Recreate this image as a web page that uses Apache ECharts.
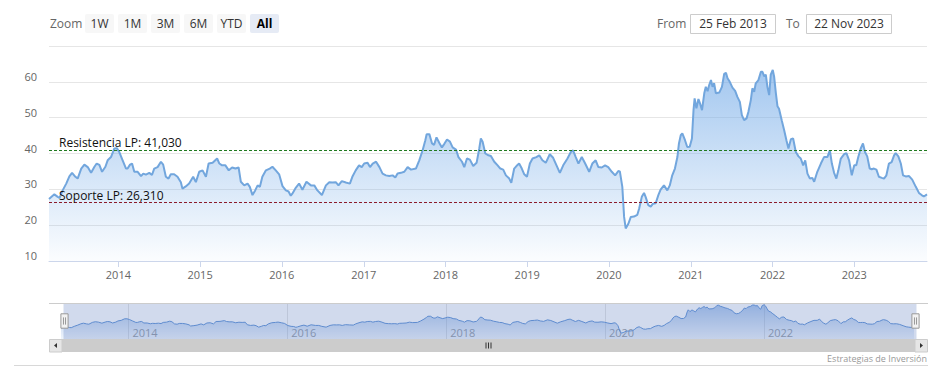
<!DOCTYPE html>
<html>
<head>
<meta charset="utf-8">
<script src="https://cdn.jsdelivr.net/npm/echarts@6/dist/echarts.min.js"></script>
<style>
html,body{margin:0;padding:0;background:#fff;}
#chart{width:944px;height:380px;}
</style>
</head>
<body>
<div id="chart"></div>
<script>
const dates = [
'2013-02-25','2013-03-21','2013-04-05','2013-04-13','2013-04-27','2013-05-13','2013-05-27','2013-06-08','2013-06-23','2013-07-03',
'2013-07-19','2013-08-02','2013-08-17','2013-09-01','2013-09-16','2013-09-26','2013-10-08','2013-10-20','2013-11-04','2013-11-14',
'2013-11-29','2013-12-14','2013-12-25','2014-01-05','2014-01-20','2014-02-04','2014-02-11','2014-02-22','2014-03-03','2014-03-13',
'2014-03-28','2014-04-12','2014-04-22','2014-05-04','2014-05-19','2014-05-31','2014-06-10','2014-06-25','2014-07-10','2014-07-20',
'2014-08-01','2014-08-13','2014-08-23','2014-09-07','2014-09-22','2014-10-07','2014-10-14','2014-10-29','2014-11-13','2014-12-01',
'2014-12-13','2014-12-28','2015-01-12','2015-01-27','2015-02-08','2015-02-26','2015-03-18','2015-03-28','2015-04-09','2015-04-24',
'2015-05-09','2015-05-24','2015-06-08','2015-06-22','2015-07-02','2015-07-17','2015-08-01','2015-08-11','2015-08-23','2015-09-04',
'2015-09-15','2015-09-25','2015-10-06','2015-10-22','2015-11-08','2015-11-20','2015-12-05','2015-12-20','2016-01-04','2016-01-19',
'2016-01-31','2016-02-10','2016-02-17','2016-03-04','2016-03-18','2016-04-02','2016-04-20','2016-05-10','2016-05-25','2016-06-08',
'2016-06-28','2016-07-16','2016-07-31','2016-08-14','2016-08-29','2016-09-10','2016-09-25','2016-10-13','2016-10-31','2016-11-11',
'2016-11-26','2016-12-11','2016-12-23','2017-01-03','2017-01-18','2017-01-29','2017-02-10','2017-02-25','2017-03-12','2017-03-26',
'2017-04-10','2017-04-25','2017-05-10','2017-05-22','2017-06-01','2017-06-16','2017-07-01','2017-07-16','2017-07-31','2017-08-22',
'2017-09-06','2017-09-21','2017-10-03','2017-10-09','2017-10-21','2017-11-02','2017-11-11','2017-11-22','2017-12-04','2017-12-16',
'2017-12-27','2018-01-08','2018-01-21','2018-02-02','2018-02-17','2018-02-28','2018-03-16','2018-03-26','2018-04-07','2018-04-20',
'2018-05-05','2018-05-20','2018-06-01','2018-06-08','2018-06-16','2018-06-28','2018-07-12','2018-07-23','2018-08-07','2018-08-22',
'2018-09-03','2018-09-16','2018-09-28','2018-10-13','2018-10-22','2018-11-04','2018-11-14','2018-11-26','2018-12-08','2018-12-19',
'2018-12-31','2019-01-13','2019-01-25','2019-02-11','2019-02-24','2019-03-10','2019-03-25','2019-04-12','2019-04-27','2019-05-12',
'2019-05-27','2019-06-11','2019-06-30','2019-07-15','2019-07-25','2019-08-06','2019-08-18','2019-09-02','2019-09-17','2019-10-05',
'2019-10-19','2019-11-03','2019-11-15','2019-11-30','2019-12-15','2019-12-29','2020-01-14','2020-01-29','2020-02-12','2020-02-19',
'2020-03-01','2020-03-09','2020-03-16','2020-03-28','2020-04-08','2020-04-22','2020-05-07','2020-05-15','2020-05-27','2020-06-06',
'2020-06-13','2020-06-25','2020-07-06','2020-07-16','2020-07-28','2020-08-09','2020-08-19','2020-09-03','2020-09-18','2020-09-29',
'2020-10-10','2020-10-22','2020-11-02','2020-11-09','2020-11-17','2020-11-24','2020-12-06','2020-12-16','2020-12-27','2021-01-06',
'2021-01-13','2021-01-18','2021-01-26','2021-02-04','2021-02-11','2021-02-20','2021-03-02','2021-03-09','2021-03-17','2021-03-24',
'2021-04-01','2021-04-08','2021-04-15','2021-04-23','2021-05-08','2021-05-20','2021-05-30','2021-06-07','2021-06-14','2021-06-24',
'2021-07-06','2021-07-18','2021-07-28','2021-08-08','2021-08-17','2021-08-27','2021-09-07','2021-09-15','2021-09-26','2021-10-03',
'2021-10-11','2021-10-18','2021-10-30','2021-11-10','2021-11-17','2021-11-25','2021-12-02','2021-12-09','2021-12-17','2021-12-24',
'2022-01-02','2022-01-08','2022-01-16','2022-01-23','2022-01-30','2022-02-11','2022-02-22','2022-03-04','2022-03-13','2022-03-24',
'2022-04-03','2022-04-15','2022-04-27','2022-05-07','2022-05-18','2022-05-27','2022-06-06','2022-06-17','2022-06-28','2022-07-06',
'2022-07-20','2022-08-05','2022-08-19','2022-09-03','2022-09-14','2022-09-23','2022-10-03','2022-10-13','2022-10-22','2022-11-02',
'2022-11-17','2022-11-27','2022-12-09','2022-12-21','2023-01-01','2023-01-10','2023-01-19','2023-01-30','2023-02-09','2023-02-18',
'2023-02-28','2023-03-11','2023-03-20','2023-03-30','2023-04-10','2023-04-21','2023-05-04','2023-05-14','2023-05-24','2023-06-05',
'2023-06-17','2023-06-28','2023-07-05','2023-07-17','2023-07-28','2023-08-07','2023-08-19','2023-09-03','2023-09-17','2023-10-03',
'2023-10-17','2023-10-29','2023-11-08','2023-11-22'
];
const prices = [
27.3,28.6,27.9,27.6,29.7,31.6,33.6,34.6,33.5,33.0,
35.8,36.9,36.2,34.6,36.3,37.2,36.8,34.9,36.3,38.1,
39.0,41.4,41.5,40.4,38.1,35.8,35.8,36.9,37.2,34.9,
34.9,33.7,34.4,34.1,34.6,34.0,35.8,36.2,37.7,36.9,
33.5,33.0,34.2,34.2,33.5,32.0,30.2,30.8,31.6,33.5,
32.0,34.9,35.3,33.5,37.2,37.4,38.6,37.2,36.7,36.7,
35.3,36.1,35.8,36.1,32.1,31.1,31.6,30.7,28.4,29.7,
31.1,30.7,33.5,35.3,35.8,36.3,35.3,34.2,30.9,29.7,
29.4,28.2,28.8,30.5,31.6,29.9,32.1,31.1,31.1,29.7,
28.4,31.1,32.0,31.9,32.0,31.1,32.3,31.9,31.6,33.5,
35.3,36.7,36.2,37.2,37.4,36.2,37.2,37.7,36.2,34.4,
33.9,33.7,33.9,33.3,34.4,34.6,34.9,36.2,35.5,35.8,
38.1,40.9,43.7,45.4,45.4,42.8,42.4,44.5,43.0,41.7,
42.7,43.9,43.3,41.7,41.1,39.0,37.7,36.2,38.6,38.3,
36.5,37.4,41.4,44.2,43.3,40.0,39.5,39.3,37.7,36.7,
35.8,35.5,33.9,33.0,31.8,35.8,36.5,37.2,35.8,34.2,
33.5,37.2,38.6,39.0,39.5,38.1,37.4,39.8,38.8,36.7,
34.6,36.7,38.6,40.4,40.9,39.0,37.2,39.0,37.2,34.9,
37.2,38.1,36.2,36.1,36.7,36.2,34.9,33.9,35.1,35.0,
30.7,22.3,19.1,20.4,22.3,22.4,22.9,24.6,27.9,29.0,
27.9,25.6,25.2,26.0,26.1,28.4,29.9,31.1,29.7,31.1,
33.9,35.8,39.0,42.8,45.1,45.6,43.7,41.8,41.9,44.2,
52.1,55.4,52.6,55.2,54.0,52.1,56.8,58.6,57.4,59.1,
60.5,58.6,59.6,56.8,57.0,58.6,62.2,62.5,61.0,60.0,
58.4,57.5,55.8,54.4,50.7,49.3,49.8,51.6,54.9,58.2,
57.2,59.6,60.5,62.8,62.8,61.5,62.0,58.6,56.3,62.0,
63.3,61.5,56.8,53.2,52.5,49.3,46.5,43.7,41.4,44.0,
44.2,40.4,39.2,38.6,36.7,38.1,34.4,33.0,33.2,32.1,
34.9,37.2,39.0,39.0,40.9,37.2,34.6,33.0,35.3,38.6,
39.8,40.1,38.1,33.9,36.7,36.7,39.0,41.4,42.8,40.4,
39.2,35.8,35.6,35.8,35.5,33.5,33.2,33.0,33.8,37.2,
37.6,39.5,40.1,39.2,37.2,33.9,33.6,33.7,32.7,30.7,
29.0,28.4,28.0,28.6
];
const yTicks = [10, 20, 30, 40, 50, 60, 70];
const navTickYears = [2014, 2016, 2018, 2020, 2022];
const resistance = 41.03;
const support = 26.31;
const rangeButtons = ['1W', '1M', '3M', '6M', 'YTD', 'All'];
const fromLabel = 'From', toLabel = 'To';
const fromDate = '25 Feb 2013', toDate = '22 Nov 2023';
const creditText = 'Estrategias de Inversión';

const FONT = '"Open Sans", "DejaVu Sans", sans-serif';
const ts = d => echarts.number.parseDate(d).getTime();
const seriesData = dates.map((d, i) => [d, prices[i]]);
const navData = dates.map((d, i) => [ts(d), prices[i]]);
const navTicks = navTickYears.map(y => ts(y + '-01-01'));
const fmtEs = v => v.toFixed(3).replace('.', ',');
const YEAR = 365.25 * 24 * 3600 * 1000;
const yearFmt = v => String(new Date(v).getFullYear());

const chart = echarts.init(document.getElementById('chart'), null, {renderer: 'svg'});

const graphics = [];
graphics.push({type: 'text', x: 50, y: 23.5, style: {text: 'Zoom', fill: '#666', font: '12px ' + FONT, verticalAlign: 'middle'}});
const btnX = [85, 118, 151, 184, 217, 250];
rangeButtons.forEach((b, i) => {
  const sel = b === 'All';
  graphics.push({type: 'rect', shape: {x: btnX[i], y: 14, width: 29, height: 19, r: 2},
    style: {fill: sel ? '#e6ebf5' : '#f7f7f7'}});
  graphics.push({type: 'text', x: btnX[i] + 14.5, y: 23.5,
    style: {text: b, fill: sel ? '#000' : '#333', font: (sel ? 'bold ' : '') + '12px ' + FONT,
      align: 'center', verticalAlign: 'middle'}});
});
graphics.push({type: 'text', x: 657, y: 23.5, style: {text: fromLabel, fill: '#666', font: '12px ' + FONT, verticalAlign: 'middle'}});
graphics.push({type: 'rect', shape: {x: 690.5, y: 14.5, width: 85, height: 19}, style: {fill: '#fff', stroke: '#cccccc', lineWidth: 1}});
graphics.push({type: 'text', x: 733, y: 23.5, style: {text: fromDate, fill: '#333', font: '12px ' + FONT, align: 'center', verticalAlign: 'middle'}});
graphics.push({type: 'text', x: 786, y: 23.5, style: {text: toLabel, fill: '#666', font: '12px ' + FONT, verticalAlign: 'middle'}});
graphics.push({type: 'rect', shape: {x: 806.5, y: 14.5, width: 85, height: 19}, style: {fill: '#fff', stroke: '#cccccc', lineWidth: 1}});
graphics.push({type: 'text', x: 849, y: 23.5, style: {text: toDate, fill: '#333', font: '12px ' + FONT, align: 'center', verticalAlign: 'middle'}});
graphics.push({type: 'line', shape: {x1: 49, y1: 303.5, x2: 928, y2: 303.5}, style: {stroke: '#cccccc', lineWidth: 1}, z: 10});
graphics.push({type: 'rect', shape: {x: 62, y: 339, width: 853, height: 13}, style: {fill: '#cccccc'}});
graphics.push({type: 'rect', shape: {x: 49.5, y: 339.5, width: 12.5, height: 12.5}, style: {fill: '#e6e6e6', stroke: '#cccccc', lineWidth: 1}});
graphics.push({type: 'rect', shape: {x: 915, y: 339.5, width: 12.5, height: 12.5}, style: {fill: '#e6e6e6', stroke: '#cccccc', lineWidth: 1}});
graphics.push({type: 'polygon', shape: {points: [[57, 343], [57, 348], [54, 345.5]]}, style: {fill: '#333'}});
graphics.push({type: 'polygon', shape: {points: [[920, 343], [920, 348], [923, 345.5]]}, style: {fill: '#333'}});
[486, 488.5, 491].forEach(x => graphics.push({type: 'line', shape: {x1: x, y1: 342.5, x2: x, y2: 348.5}, style: {stroke: '#333', lineWidth: 1}}));
graphics.push({type: 'text', x: 927, y: 358, style: {text: creditText, fill: '#999', font: '9px ' + FONT, align: 'right', verticalAlign: 'middle'}});
graphics.push({type: 'line', shape: {x1: 14, y1: 365.5, x2: 928, y2: 365.5}, style: {stroke: '#d8d8d8', lineWidth: 1}});

const option = {
  animation: false,
  backgroundColor: '#fff',
  textStyle: {fontFamily: FONT},
  grid: [
    {left: 49, right: 17, top: 46, height: 215},
    {left: 61, right: 30, top: 303, height: 36}
  ],
  xAxis: [
    {
      type: 'time', gridIndex: 0, min: dates[0], max: dates[dates.length - 1],
      minInterval: YEAR, maxInterval: YEAR,
      axisLine: {lineStyle: {color: '#ccd6eb', width: 1}},
      axisTick: {show: true, length: 6, lineStyle: {color: '#ccd6eb'}},
      splitLine: {show: false},
      axisLabel: {color: '#666', fontSize: 11, fontFamily: FONT, margin: 8,
        showMinLabel: false, showMaxLabel: false, formatter: yearFmt}
    },
    {
      type: 'value', gridIndex: 1, min: navData[0][0], max: navData[navData.length - 1][0],
      axisLine: {show: false},
      axisTick: {show: false, customValues: navTicks},
      splitLine: {show: true, lineStyle: {color: '#e2e2e2', width: 1}},
      axisLabel: {inside: true, color: '#999', fontSize: 11, fontFamily: FONT, margin: 1, align: 'left',
        padding: [0, 0, 0, 4], customValues: navTicks, formatter: yearFmt}
    }
  ],
  yAxis: [
    {
      type: 'value', gridIndex: 0, min: yTicks[0], max: yTicks[yTicks.length - 1], interval: 10,
      axisLine: {show: false}, axisTick: {show: false},
      splitLine: {lineStyle: {color: '#e6e6e6', width: 1}},
      axisLabel: {color: '#666', fontSize: 11, fontFamily: FONT, margin: 12, showMaxLabel: false,
        verticalAlign: 'bottom', lineHeight: 11}
    },
    {type: 'value', gridIndex: 1, min: 10, max: 66, show: false, splitLine: {show: false}}
  ],
  dataZoom: [{
    type: 'slider', xAxisIndex: 0, start: 0, end: 100,
    left: 61, right: 30, top: 303, height: 36,
    backgroundColor: 'rgba(0,0,0,0)', borderColor: 'rgba(0,0,0,0)',
    fillerColor: 'rgba(102,133,194,0.3)',
    dataBackground: {lineStyle: {opacity: 0}, areaStyle: {opacity: 0}},
    selectedDataBackground: {lineStyle: {opacity: 0}, areaStyle: {opacity: 0}},
    showDetail: false, brushSelect: false, moveHandleSize: 0,
    handleIcon: 'path://M0,0 L7,0 L7,14 L0,14 Z M2.5,3.5 L2.5,10.5 M4.5,3.5 L4.5,10.5',
    handleSize: '40%',
    handleStyle: {color: '#f2f2f2', borderColor: '#999999', borderWidth: 1},
    emphasis: {handleStyle: {color: '#f2f2f2', borderColor: '#999999'}},
    z: 5
  }],
  series: [
    {
      type: 'line', name: 'Precio', xAxisIndex: 0, yAxisIndex: 0,
      data: seriesData, showSymbol: false, symbol: 'none',
      lineStyle: {color: '#72a6dd', width: 2},
      itemStyle: {color: '#72a6dd'},
      areaStyle: {color: new echarts.graphic.LinearGradient(0, 0, 0, 1, [
        {offset: 0, color: 'rgba(118,172,232,0.95)'},
        {offset: 1, color: 'rgba(118,172,232,0.04)'}
      ])},
      markLine: {
        silent: true, symbol: ['none', 'none'], animation: false,
        data: [
          {yAxis: resistance,
           lineStyle: {color: '#1f7a1f', type: [3, 2], width: 1},
           label: {show: true, position: 'insideStartTop', formatter: 'Resistencia LP: ' + fmtEs(resistance),
             color: '#111', fontSize: 12, fontFamily: FONT, distance: [10, 1]}},
          {yAxis: support,
           lineStyle: {color: '#8b1a2a', type: [3, 2], width: 1},
           label: {show: true, position: 'insideStartTop', formatter: 'Soporte LP: ' + fmtEs(support),
             color: '#111', fontSize: 12, fontFamily: FONT, distance: [10, 1]}}
        ]
      }
    },
    {
      type: 'line', name: 'Navigator', xAxisIndex: 1, yAxisIndex: 1,
      data: navData, showSymbol: false, symbol: 'none', silent: true,
      lineStyle: {color: '#5b8fd4', width: 1},
      areaStyle: {color: new echarts.graphic.LinearGradient(0, 0, 0, 1, [
        {offset: 0, color: 'rgba(100,150,220,0.8)'},
        {offset: 1, color: 'rgba(100,150,220,0.15)'}
      ])}
    }
  ],
  graphic: graphics
};
chart.setOption(option);
</script>
</body>
</html>
